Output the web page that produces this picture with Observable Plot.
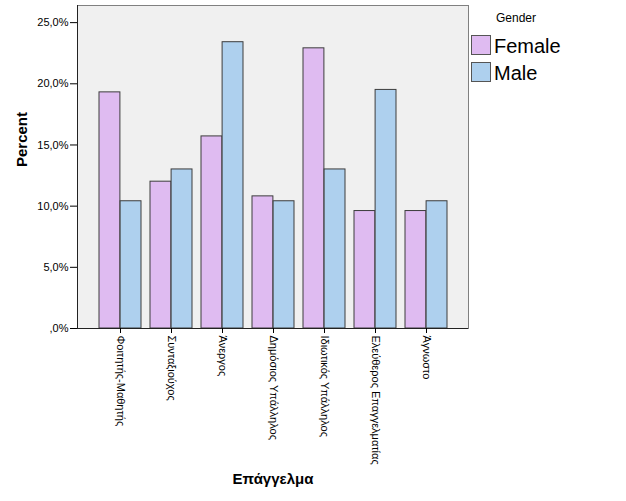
<!DOCTYPE html>
<html>
<head>
<meta charset="utf-8">
<script src="https://cdn.jsdelivr.net/npm/d3@7"></script>
<script src="https://cdn.jsdelivr.net/npm/@observablehq/plot@0.6"></script>
<style>
  body { margin: 0; background: white; font-family: "Liberation Sans", Arial, sans-serif; }
  #wrap { position: relative; width: 626px; height: 501px; }
  .lg { position: absolute; font-family: "Liberation Sans", Arial, sans-serif; color: #000; white-space: nowrap; }
  .sw { position: absolute; width: 18px; height: 18px; border: 1px solid #555; }
</style>
</head>
<body>
<div id="wrap"></div>
<script>
const categories = ["Φοιτητής-Μαθητής", "Συνταξιούχος", "Άνεργος", "Δημόσιος Υπάλληλος", "Ιδιωτικός Υπάλληλος", "Ελεύθερος Επαγγελματίας", "Άγνωστο"];
const genders = ["Female", "Male"];
const female = [19.3, 12.0, 15.7, 10.8, 22.9, 9.6, 9.6];
const male = [10.4, 13.0, 23.4, 10.4, 13.0, 19.5, 10.4];
const yTicks = [0, 5, 10, 15, 20, 25];
const colors = ["#dfbbf1", "#aed0ee"];

const rows = [];
categories.forEach((c, i) => {
  rows.push({cat: c, gender: "Female", value: female[i]});
  rows.push({cat: c, gender: "Male", value: male[i]});
});

const fmt = d => d === 0 ? ",0%" : d.toFixed(1).replace(".", ",") + "%";
const half = 21.1;

const chart = Plot.plot({
  width: 626,
  height: 501,
  marginLeft: 77,
  marginRight: 158,
  marginTop: 5,
  marginBottom: 173,
  style: {fontFamily: "Liberation Sans, Arial, sans-serif", fontSize: "11px", background: "white", color: "#000"},
  x: {domain: categories, paddingInner: 0.18, paddingOuter: 0.39, axis: null},
  y: {domain: [0, 26.4], axis: null},
  color: {domain: genders, range: colors},
  marks: [
    Plot.frame({fill: "#f0f0f0", stroke: "#808080"}),
    Plot.barY(rows.filter(d => d.gender === "Female"), {x: "cat", y: "value", fill: "gender", stroke: "#3c3c3c", strokeWidth: 1, insetRight: half}),
    Plot.barY(rows.filter(d => d.gender === "Male"), {x: "cat", y: "value", fill: "gender", stroke: "#3c3c3c", strokeWidth: 1, insetLeft: half}),
    Plot.frame({anchor: "left", stroke: "#222"}),
    Plot.ruleY([0], {stroke: "#222"}),
    Plot.axisY({ticks: yTicks, tickFormat: fmt, tickSize: 7, tickPadding: 2, label: null, fontSize: 11}),
    Plot.axisX({tickRotate: 90, tickSize: 5, tickPadding: 2, label: null, fontSize: 11}),
    Plot.text(["Percent"], {frameAnchor: "left", dx: -55, rotate: -90, fontSize: 15, fontWeight: "bold"}),
    Plot.text(["Επάγγελμα"], {frameAnchor: "bottom", dy: 155, fontSize: 15, fontWeight: "bold"})
  ]
});

const wrap = document.getElementById("wrap");
wrap.appendChild(chart);

function addText(txt, left, top, size) {
  const d = document.createElement("div");
  d.className = "lg";
  d.textContent = txt;
  d.style.left = left + "px";
  d.style.top = top + "px";
  d.style.fontSize = size + "px";
  d.style.lineHeight = "1";
  wrap.appendChild(d);
}
addText("Gender", 496, 12, 12);
genders.forEach((g, i) => {
  const s = document.createElement("div");
  s.className = "sw";
  s.style.left = "471px";
  s.style.top = (35 + i * 27) + "px";
  s.style.background = colors[i];
  wrap.appendChild(s);
  addText(g, 494, 36 + i * 27, 20);
});
</script>
</body>
</html>
